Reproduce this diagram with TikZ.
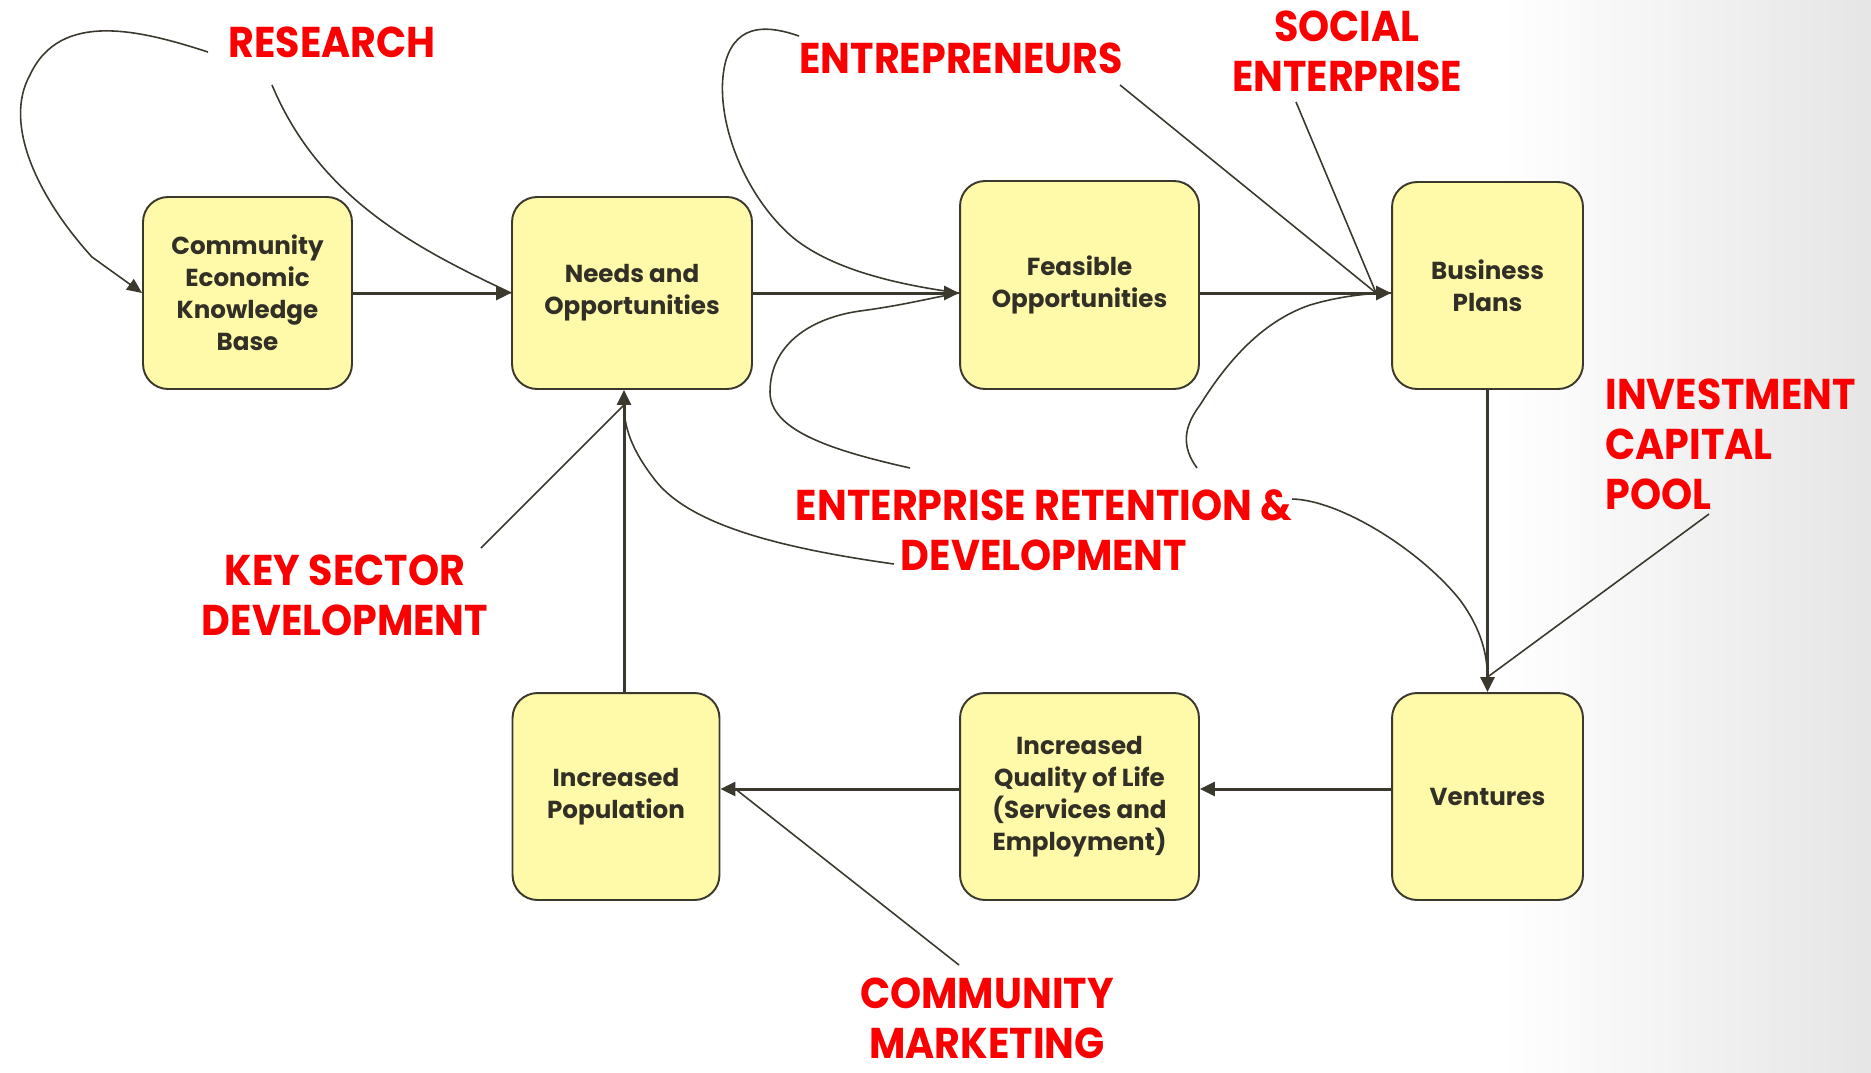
\documentclass[tikz,border=0pt]{standalone}
\usepackage{fontspec}
\setmainfont{Poppins}
\newfontfamily\tagfont{Poppins}[FakeStretch=0.92]
\usetikzlibrary{arrows.meta}

\definecolor{boxfill}{RGB}{255,250,170}
\definecolor{ink}{RGB}{59,56,46}
\definecolor{boxtext}{RGB}{50,47,38}
\definecolor{tagred}{RGB}{250,0,0}

\tikzset{
  stage/.style={draw=ink, line width=1.1pt, fill=boxfill, rounded corners=0.5cm,
    align=center, text=boxtext, font=\bfseries\fontsize{14}{18.2}\selectfont},
  lbl/.style={text=tagred, align=center, inner sep=0pt,
    font=\tagfont\bfseries\fontsize{24.5}{28.5}\selectfont},
  flow/.style={draw=ink, line width=1.7pt, -{Triangle[length=0.3cm,width=0.28cm]}},
  link/.style={draw=ink, line width=0.9pt},
}

\begin{document}
\begin{tikzpicture}[x=0.02cm, y=-0.02cm]
  % page, with a grey fade on the right
  \useasboundingbox (0,0) rectangle (1871,1072);
  \fill[white] (0,0) rectangle (1871,1072);
  \shade[left color=white, right color=black!10] (1500,0) rectangle (1871,1072);

  % stages
  \node[stage, minimum width=4.18cm, minimum height=3.84cm] (ckb) at (247.5,293) {Community\\Economic\\Knowledge\\Base};
  \node[stage, minimum width=4.8cm, minimum height=3.84cm] (needs) at (632,293) {Needs and\\Opportunities};
  \node[stage, minimum width=4.78cm, minimum height=4.16cm] (feasible) at (1079.5,285) {Feasible\\Opportunities};
  \node[stage, minimum width=3.82cm, minimum height=4.14cm] (plans) at (1487.5,285.5) {Business\\Plans};
  \node[stage, minimum width=3.82cm, minimum height=4.14cm] (ventures) at (1487.5,796.5) {Ventures};
  \node[stage, minimum width=4.78cm, minimum height=4.14cm] (quality) at (1079.5,796.5) {Increased\\Quality of Life\\(Services and\\Employment)};
  \node[stage, minimum width=4.14cm, minimum height=4.14cm] (pop) at (616,796.5) {Increased\\Population};

  % red labels
  \node[lbl] (research) at (332,42) {RESEARCH};
  \node[lbl] (entre) at (961,58) {ENTREPRENEURS};
  \node[lbl] (social) at (1347,51) {SOCIAL\\ENTERPRISE};
  \node[lbl, anchor=west, align=left] (invest) at (1605,444) {INVESTMENT\\CAPITAL\\POOL};
  \node[lbl] (retain) at (1044,530) {ENTERPRISE RETENTION \&\\DEVELOPMENT};
  \node[lbl] (keysec) at (345,595) {KEY SECTOR\\DEVELOPMENT};
  \node[lbl] (market) at (987,1018) {COMMUNITY\\MARKETING};

  % arrow ends
  \coordinate (fin) at (needs.east -| feasible.west);
  \coordinate (pin) at (needs.east -| plans.west);
  \coordinate (vout) at ([yshift=0.15cm]ventures.west);
  \coordinate (popin) at (vout -| pop.east);
  \coordinate (pout) at ([xshift=0.16cm]pop.north);
  \coordinate (nin) at (pout |- needs.south);
  \coordinate (fin-b) at ([xshift=-0.3cm]fin);
  \coordinate (pin-b) at ([xshift=-0.3cm]pin);
  \coordinate (vin-b) at ([yshift=0.3cm]ventures.north);
  \coordinate (nin-b) at ([yshift=-0.3cm]nin);
  \coordinate (popin-b) at ([xshift=0.3cm]popin);

  % loose ends of the thin lines
  \coordinate (res-a) at (208,52);
  \coordinate (res-b) at (272,85);
  \coordinate (ent-a) at (799,36);
  \coordinate (ent-b) at (1120,85);
  \coordinate (soc-a) at (1296,102);
  \coordinate (ret-a) at (910,468);
  \coordinate (ret-b) at (1197,468);
  \coordinate (ret-c) at (894,564);
  \coordinate (ret-d) at (1292,499);
  \coordinate (inv-a) at (1709,514);
  \coordinate (key-a) at (481,548);
  \coordinate (mkt-a) at (959,965);

  % main cycle
  \draw[flow] (ckb) -- (needs);
  \draw[flow] (needs.east) -- (fin);
  \draw[flow] (feasible.east |- pin) -- (pin);
  \draw[flow] (plans) -- (ventures);
  \draw[flow] (vout) -- (vout -| quality.east);
  \draw[flow] (quality.west |- vout) -- (popin);
  \draw[flow] (pout) -- (nin);

  % inputs
  \draw[link, -{Triangle[length=0.3cm,width=0.26cm]}] (res-a) .. controls (140,30) and (60,10) .. (30,75)
    .. controls (2,125) and (40,200) .. (92,257) -- (ckb.west);
  \draw[link] (res-b) .. controls (320,200) and (420,250) .. (needs.west);
  \draw[link] (ent-a) .. controls (770,26) and (738,22) .. (726,60)
    .. controls (712,110) and (740,190) .. (790,235) .. controls (830,270) and (900,285) .. (fin);
  \draw[link] (ent-b) -- (pin-b);
  \draw[link] (soc-a) -- (pin-b);
  \draw[link] (ret-a) .. controls (830,450) and (770,430) .. (770,392)
    .. controls (770,345) and (810,318) .. (860,311) .. controls (905,305) and (930,298) .. (fin);
  \draw[link] (ret-b) .. controls (1180,445) and (1185,425) .. (1200,405)
    .. controls (1225,365) and (1260,322) .. (1310,305) .. controls (1340,296) and (1370,293) .. (pin);
  \draw[link] (ret-c) .. controls (780,548) and (690,525) .. (655,480)
    .. controls (630,448) and (624,425) .. (nin-b);
  \draw[link] (ret-d) .. controls (1340,500) and (1420,550) .. (1460,600)
    .. controls (1482,630) and (1487,655) .. (vin-b);
  \draw[link] (inv-a) -- (vin-b);
  \draw[link] (key-a) -- (nin-b);
  \draw[link] (mkt-a) -- (popin-b);
\end{tikzpicture}
\end{document}
